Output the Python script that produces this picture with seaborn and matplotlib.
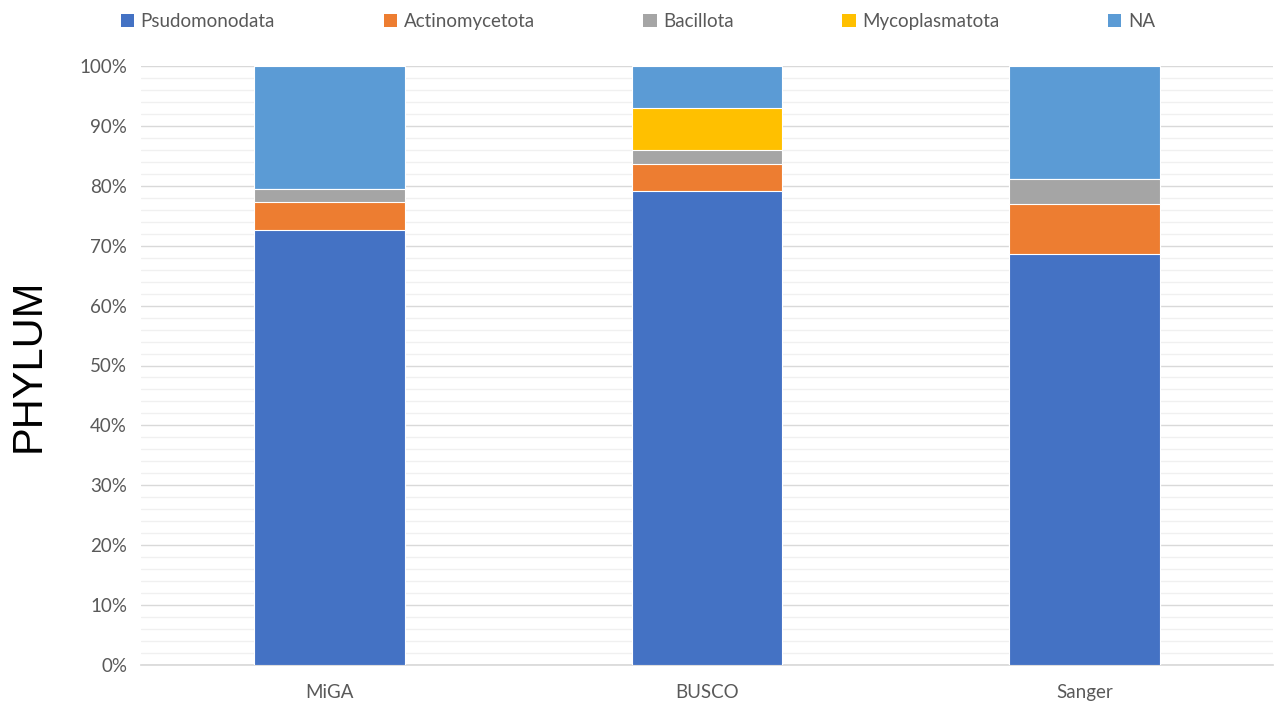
import matplotlib

matplotlib.use("Agg")

import matplotlib.pyplot as plt
import numpy as np
import pandas as pd
import seaborn as sns
from matplotlib.patches import Patch
from matplotlib.ticker import MultipleLocator, PercentFormatter

sns.set_theme(style="white")
plt.rcParams["font.family"] = ["Lato", "DejaVu Sans"]

samples = ["MiGA", "BUSCO", "Sanger"]
phyla = ["Psudomonodata", "Actinomycetota", "Bacillota", "Mycoplasmatota", "NA"]
psudomonodata = [72.6, 79.1, 68.6]
actinomycetota = [4.7, 4.5, 8.4]
bacillota = [2.2, 2.4, 4.1]
mycoplasmatota = [0.0, 7.0, 0.0]
na_share = [20.5, 7.0, 18.9]
colors = ["#4472C4", "#ED7D31", "#A5A5A5", "#FFC000", "#5B9BD5"]

df = pd.DataFrame(
    {
        "sample": samples,
        "Psudomonodata": psudomonodata,
        "Actinomycetota": actinomycetota,
        "Bacillota": bacillota,
        "Mycoplasmatota": mycoplasmatota,
        "NA": na_share,
    }
)
# normalise each bar to 100 %, then stack
shares = df[phyla].div(df[phyla].sum(axis=1), axis=0) * 100
cum = shares.cumsum(axis=1)
cum["sample"] = df["sample"]

fig = plt.figure(figsize=(12.76, 7.12), dpi=100)
ax = fig.add_axes([141 / 1276, 1 - 665 / 712, 1132 / 1276, 599 / 712])

# draw tallest cumulative first so lower segments sit on top
for name, color in reversed(list(zip(phyla, colors))):
    sns.barplot(data=cum, x="sample", y=name, color=color, width=0.4,
                saturation=1, edgecolor="white", linewidth=0.8, ax=ax, zorder=3)

ax.set_ylim(0, 100)
ax.set_xlim(-0.5, 2.5)
ax.yaxis.set_major_locator(MultipleLocator(10))
ax.yaxis.set_minor_locator(MultipleLocator(2))
ax.yaxis.set_major_formatter(PercentFormatter(decimals=0))
ax.grid(axis="y", which="major", color="#d9d9d9", lw=1.0, zorder=0)
ax.grid(axis="y", which="minor", color="#f0f0f0", lw=1.0, zorder=0)
ax.set_axisbelow(True)
for side in ["left", "right", "top"]:
    ax.spines[side].set_visible(False)
ax.spines["bottom"].set_color("#d9d9d9")
ax.tick_params(axis="both", which="both", length=0, labelsize=13.5, colors="#595959")
ax.tick_params(axis="x", pad=14)
ax.tick_params(axis="y", pad=10)
ax.set_xlabel("")
ax.set_ylabel("PHYLUM", fontsize=30, family=["Liberation Sans", "DejaVu Sans"],
              color="black", labelpad=22)

handles = [Patch(facecolor=c, edgecolor="none") for c in colors]
fig.legend(handles, phyla, loc="upper center", bbox_to_anchor=(0.5, 1.005), ncol=5,
           frameon=False, fontsize=13.5, labelcolor="#595959", handlelength=0.7,
           handleheight=0.7, handletextpad=0.35, columnspacing=5.8)

fig.savefig("out.png", dpi=100)
